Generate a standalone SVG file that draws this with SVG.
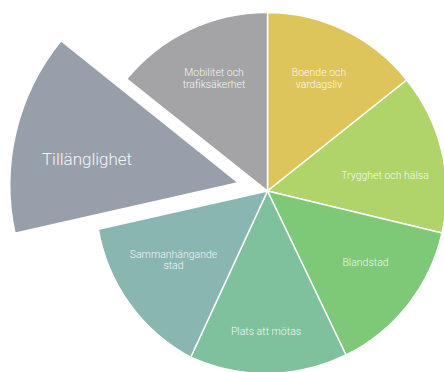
<svg xmlns="http://www.w3.org/2000/svg" width="444" height="372" viewBox="0 0 444 372">
<style>
.s{stroke:#fff;stroke-width:1.5;stroke-linejoin:round}
.t{font-family:Roboto,"Liberation Sans",sans-serif;font-weight:300;font-size:10.5px;fill:#fff;fill-opacity:0.92;text-anchor:middle}
.big{font-size:17px}
</style>
<rect width="444" height="372" fill="#fff"/>
<g id="boende">
<path class="s" fill="#ddc55b" d="M267.5,191 L267.5,12.5 A179,179 0 0 1 406.7,80 Z"/>
<text class="t" x="319" y="76">Boende och</text>
<text class="t" x="319" y="87.5">vardagsliv</text>
</g>
<g id="trygghet">
<path class="s" fill="#b0d46a" d="M267.5,191 L406.7,80 A179,179 0 0 1 442,233 Z"/>
<text class="t" x="385" y="179">Trygghet och hälsa</text>
</g>
<g id="blandstad">
<path class="s" fill="#7dc977" d="M267.5,191 L442,233 A180,180 0 0 1 346,355 Z"/>
<text class="t" x="365.5" y="265.5">Blandstad</text>
</g>
<g id="plats">
<path class="s" fill="#7fc19c" d="M267.5,191 L346,355 A182,182 0 0 1 190.7,357.3 Z"/>
<text class="t" x="266" y="335">Plats att mötas</text>
</g>
<g id="sammanhangande">
<path class="s" fill="#8ab6b2" d="M267.5,191 L190.7,357.3 A180,180 0 0 1 98.3,229.3 Z"/>
<text class="t" x="173.5" y="257.5">Sammanhängande</text>
<text class="t" x="173.5" y="269">stad</text>
</g>
<g id="tillanglighet">
<path class="s" fill="#97a0aa" d="M238.3,182.7 L61,40.7 A228,228 0 0 0 15,233.3 Z"/>
<text class="t big" x="87" y="165">Tillänglighet</text>
</g>
<g id="mobilitet">
<path class="s" fill="#a4a4a6" d="M267.5,191 L126.7,79 A180,180 0 0 1 267.5,12.5 Z"/>
<text class="t" x="214" y="76">Mobilitet och</text>
<text class="t" x="214" y="87.5">trafiksäkerhet</text>
</g>
<g id="connectors"/>
</svg>
